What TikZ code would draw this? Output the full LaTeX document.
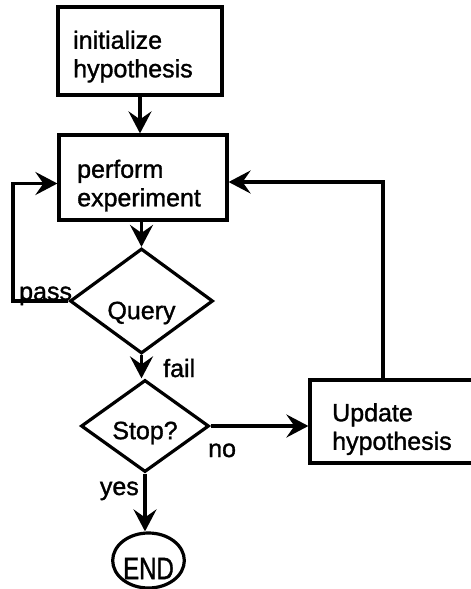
\documentclass[tikz,border=0pt]{standalone}
\usepackage{fontspec}
\setmainfont{Liberation Sans}[BoldFont=Liberation Sans,BoldFeatures={FakeBold=1.3}]
\usetikzlibrary{shapes.geometric,arrows.meta}
\tikzset{
  ln/.style={line width=3.2pt},
  arr/.style={ln,-{Stealth[length=22pt,width=23pt,inset=8pt]}},
  box/.style={draw,ln,rectangle,inner sep=0pt},
  dia/.style={draw,ln,diamond,inner sep=0pt,font=\fontsize{25}{28}\selectfont\bfseries},
  txt/.style={inner sep=0pt,align=left,font=\fontsize{25}{28.5}\selectfont\bfseries},
  lbl/.style={inner sep=0pt,font=\fontsize{25}{28}\selectfont\bfseries}
}
\begin{document}
\begin{tikzpicture}[x=1pt,y=-1pt]
\useasboundingbox (0,0) rectangle (471,589);
\clip (0,0) rectangle (471,589);
% boxes
\node[box,minimum width=164pt,minimum height=88pt] (init) at (140,51) {};
\node[txt,anchor=north west] (initT) at (73,30.5) {initialize\\hypothesis};
\node[box,minimum width=168pt,minimum height=85pt] (perform) at (143,177.5) {};
\node[txt,anchor=north west] (performT) at (77,159.5) {perform\\experiment};
\node[dia,minimum width=143pt,minimum height=105pt] (query) at (141.5,301) {\raisebox{-12pt}[\height][\depth]{Query}};
\node[dia,minimum width=128pt,minimum height=92pt] (stop) at (145,426) {\raisebox{-7pt}[\height][\depth]{Stop?}};
\node[box,minimum width=180pt,minimum height=83pt] (update) at (400,421.5) {};
\node[txt,anchor=north west] (updateT) at (332,403) {Update\\hypothesis};
\node[draw,ln,ellipse,minimum width=67pt,minimum height=55pt,inner sep=0pt,font=\fontsize{24}{28}\selectfont\bfseries] (end) at (148.5,560.5) {\raisebox{-8pt}[\height][\depth]{\scalebox{1}[1.3]{END}}};
% connectors
\coordinate (passx) at (13,0);
\draw[arr] (init.south) -- (init.south |- perform.north);
\draw[arr] (query.north |- perform.south) -- (query.north);
\draw[arr] (query.south) -- (query.south |- stop.north);
\draw[arr] (query.west) -- (query.west -| passx) |- ([yshift=-6pt]perform.west);
\draw[arr] (stop.east) -- (stop.east -| update.west);
\draw[arr] ([xshift=-17pt]update.north) |- ([yshift=-4.5pt]perform.east);
\draw[arr] (stop.south) -- (stop.south |- end.north);
% labels
\node[lbl,anchor=base west] (pass) at (19,300) {pass};
\node[lbl,anchor=base west] (fail) at (163,377) {fail};
\node[lbl,anchor=base west] (no) at (208,457) {no};
\node[lbl,anchor=base east] (yes) at (139,495) {yes};
\end{tikzpicture}
\end{document}
